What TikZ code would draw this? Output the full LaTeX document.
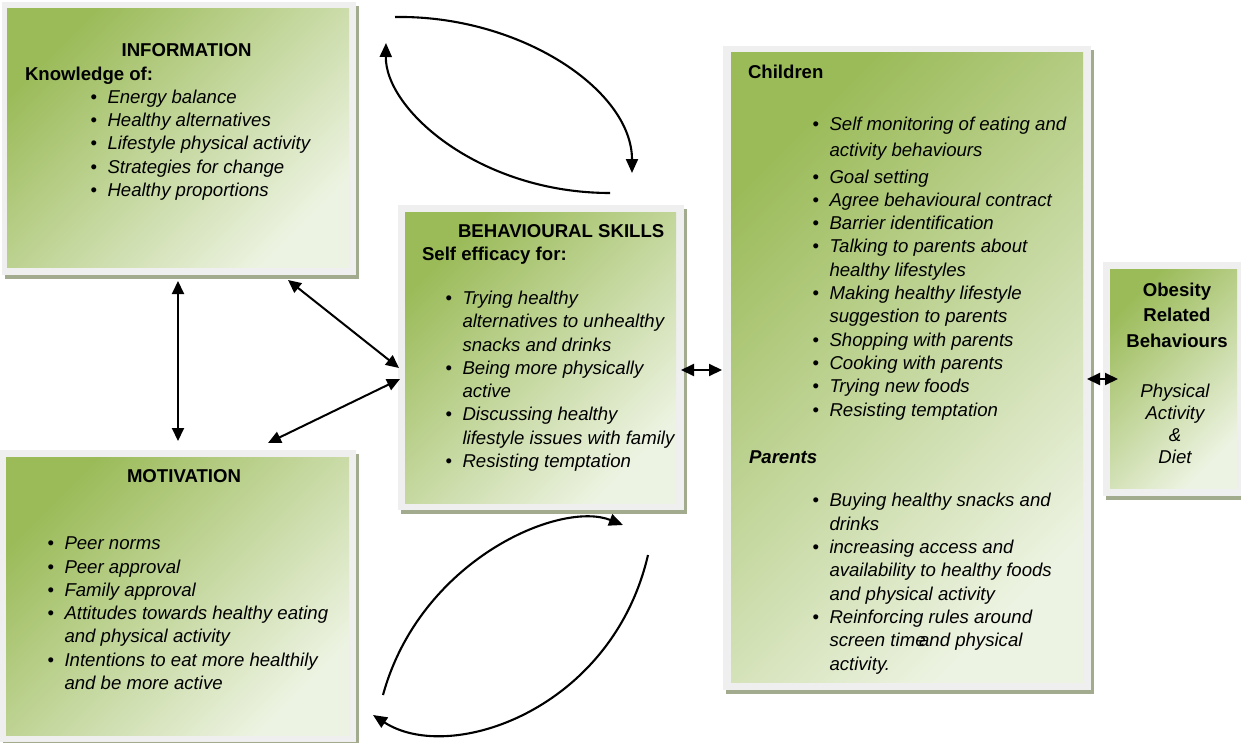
\documentclass[tikz,border=0pt]{standalone}
\usepackage{fontspec}
\setmainfont{Liberation Sans}
\usetikzlibrary{arrows.meta,shadows,calc}
\definecolor{framecol}{RGB}{239,239,239}
\definecolor{shdcol}{RGB}{163,171,143}
\definecolor{gdark}{RGB}{155,187,89}
\definecolor{glight}{RGB}{237,243,226}
\newcommand{\BI}[1]{\makebox[17bp][l]{\textbullet}\textit{#1}}
\newcommand{\CL}[1]{\hspace*{17bp}\textit{#1}}
\begin{document}
\begin{tikzpicture}[x=1bp,y=1bp,
  every node/.style={inner sep=0pt, outer sep=0pt, font=\fontsize{18.6bp}{23.3bp}\selectfont},
  frame/.style={draw=none, fill=framecol, rectangle,
    drop shadow={shadow xshift=3bp, shadow yshift=-4bp, fill=shdcol, opacity=1}},
  green/.style={top color=gdark, bottom color=glight, shading angle=45},
  txt/.style={align=left, anchor=base west},
  head/.style={font=\fontsize{18.6bp}{23.3bp}\selectfont\bfseries},
  dbl/.style={line width=2bp, {Triangle[length=13bp,width=12bp]}-{Triangle[length=13bp,width=12bp]}},
  curv/.style={line width=2.1bp, -{Triangle[length=14bp,width=12bp]}}
]
\useasboundingbox (0,0) rectangle (1241,-743);

% ---------- frames ----------
\node[frame, minimum width=354bp, minimum height=273bp] (info) at (179,-138.5) {};
\shade[green] (7,-9) rectangle (349,-267);

\node[frame, minimum width=286bp, minimum height=305bp] (beh) at (541,-357.5) {};
\shade[green] (405,-212) rectangle (676,-503);

\node[frame, minimum width=368bp, minimum height=644bp] (chi) at (907,-368) {};
\shade[green] (731,-53) rectangle (1083,-682);

\node[frame, minimum width=140bp, minimum height=234bp] (obe) at (1173,-379) {};
\shade[green] (1110,-269) rectangle (1237,-488);

\node[frame, minimum width=356bp, minimum height=292bp] (mot) at (178,-596) {};
\shade[green] (6,-457) rectangle (349,-735);

% ---------- INFORMATION ----------
\node[head, anchor=base] (infoT) at (186.5,-57) {INFORMATION};
\node[head, anchor=base west] (infoS) at (25,-81) {Knowledge of:};
% anchor = baseline of last line
\node[txt] (infoL) at (90.5,-196.5) {\BI{Energy balance}\\
\BI{Healthy alternatives}\\
\BI{Lifestyle physical activity}\\
\BI{Strategies for change}\\
\BI{Healthy proportions}};

% ---------- BEHAVIOURAL SKILLS ----------
\node[head, anchor=base west] (behT) at (458,-237) {BEHAVIOURAL SKILLS};
\node[head, anchor=base west] (behS) at (422,-260) {Self efficacy for:};
\node[txt] (behL) at (445.5,-467.5) {\BI{Trying healthy}\\
\CL{alternatives to unhealthy}\\
\CL{snacks and drinks}\\
\BI{Being more physically}\\
\CL{active}\\
\BI{Discussing healthy}\\
\CL{lifestyle issues with family}\\
\BI{Resisting temptation}};

% ---------- Children / Parents ----------
\node[head, anchor=base west] (chiT) at (748,-79) {Children};
\node[txt] (chiL) at (812.5,-416) {\BI{Self monitoring of eating and}\\[2.7bp]
\CL{activity behaviours}\\[3.7bp]
\BI{Goal setting}\\
\BI{Agree behavioural contract}\\
\BI{Barrier identification}\\
\BI{Talking to parents about}\\
\CL{healthy lifestyles}\\
\BI{Making healthy lifestyle}\\
\CL{suggestion to parents}\\
\BI{Shopping with parents}\\
\BI{Cooking with parents}\\
\BI{Trying new foods}\\
\BI{Resisting temptation}};
\node[head, anchor=base west] (parT) at (749,-463) {\itshape Parents};
\node[txt] (parL) at (812.5,-670) {\BI{Buying healthy snacks and}\\
\CL{drinks}\\
\BI{increasing access and}\\
\CL{availability to healthy foods}\\
\CL{and physical activity}\\
\BI{Reinforcing rules around}\\
\CL{screen time\hspace{-0.35em}and physical}\\
\CL{activity.}};

% ---------- Obesity ----------
\node[head, anchor=base, align=center] (obeT) at (1177,-347) {Obesity\\[2.2bp]Related\\[2.2bp]Behaviours};
\node[anchor=base, align=center, font=\fontsize{18.6bp}{22bp}\selectfont\itshape] (obeL) at (1175,-463) {Physical\\Activity\\\&\\Diet};

% ---------- MOTIVATION ----------
\node[head, anchor=base] (motT) at (184,-482) {MOTIVATION};
\node[txt] (motL) at (47.5,-689.5) {\BI{Peer norms}\\
\BI{Peer approval}\\
\BI{Family approval}\\
\BI{Attitudes towards healthy eating}\\
\CL{and physical activity}\\
\BI{Intentions to eat more healthily}\\
\CL{and be more active}};

% ---------- straight connectors ----------
\coordinate (v1) at (178,-281);
\coordinate (v2) at (178,-441);
\coordinate (d1a) at (288,-280);
\coordinate (d1b) at (399,-368);
\coordinate (d2a) at (268,-443);
\coordinate (d2b) at (400,-379);
\coordinate (h1a) at (681,-370);
\coordinate (h1b) at (722,-370);
\coordinate (h2a) at (1087,-379);
\coordinate (h2b) at (1118,-379);
\draw[dbl] (v1) -- (v2);
\draw[dbl] (d1a) -- (d1b);
\draw[dbl] (d2a) -- (d2b);
\draw[dbl] (h1a) -- (h1b);
\draw[dbl] (h2a) -- (h2b);

% ---------- curved connectors ----------
\coordinate (cA1) at (395,-17);
\coordinate (cA2) at (632,-173);
\coordinate (cB1) at (610,-193);
\coordinate (cB2) at (386,-43);
\coordinate (cC1) at (383,-695);
\coordinate (cC2) at (623,-525);
\coordinate (cD1) at (648,-555);
\coordinate (cD2) at (373,-715);
\draw[curv] (cA1) .. controls (520,-15) and (632,-90) .. (cA2);
\draw[curv] (cB1) .. controls (480,-193) and (385,-110) .. (cB2);
\draw[curv] (cC1) .. controls (420,-560) and (560,-500) .. (cC2);
\draw[curv] (cD1) .. controls (612,-710) and (450,-765) .. (cD2);
\end{tikzpicture}
\end{document}
